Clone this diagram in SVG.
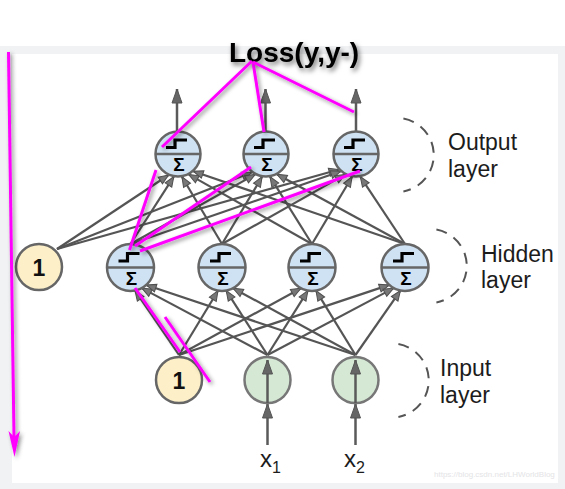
<svg xmlns="http://www.w3.org/2000/svg" width="565" height="489" viewBox="0 0 565 489">
<defs>
<style>
text{font-family:"Liberation Sans",Arial,Helvetica,sans-serif}
.conn{stroke:#555;stroke-width:2.2;fill:none;marker-end:url(#ah)}
.io{stroke:#5a5a5a;stroke-width:2.5;fill:none;marker-end:url(#ahb)}
.nc{fill:#cfe2f3;stroke:#666;stroke-width:2.5}
.bc{fill:#fdf0c8;stroke:#666;stroke-width:2.5}
.ic{fill:#d5e8d4;stroke:#777;stroke-width:2.5}
.mid{stroke:#666;stroke-width:2.5}
.step{stroke:#000;stroke-width:3.2;fill:none}
.one{font-size:23px;font-weight:bold;fill:#111;text-anchor:middle}
.lab{font-size:23px;fill:#1c1c1c}
.arc{stroke:#555;stroke-width:2;fill:none;stroke-dasharray:11 8}
.mag{stroke:#ff00ff;stroke-width:3;fill:none;filter:url(#msh)}
</style>
<marker id="ah" viewBox="0 0 10 8" refX="10" refY="4" markerWidth="10" markerHeight="8" orient="auto" markerUnits="userSpaceOnUse" overflow="visible">
<path d="M0,0 L10,4 L0,8 Z" fill="#777" stroke="#4f4f4f" stroke-width="1"/>
</marker>
<marker id="ahb" viewBox="0 0 14 10" refX="14" refY="5" markerWidth="14" markerHeight="10" orient="auto" markerUnits="userSpaceOnUse" overflow="visible">
<path d="M0,0 L14,5 L0,10 Z" fill="#666" stroke="#555" stroke-width="1"/>
</marker>
<filter id="tsh" x="-20%" y="-40%" width="140%" height="180%">
<feDropShadow dx="2" dy="3" stdDeviation="2.5" flood-color="#000" flood-opacity="0.55"/>
</filter>
<filter id="msh" x="-50%" y="-50%" width="200%" height="200%" filterUnits="userSpaceOnUse">
<feDropShadow dx="2" dy="2" stdDeviation="2" flood-color="#000" flood-opacity="0.45"/>
</filter>
</defs>

<rect x="0" y="0" width="565" height="489" fill="#ffffff"/>
<rect x="0" y="46" width="565" height="443" fill="#f1f2f4"/>
<rect x="12" y="54" width="546" height="429" fill="#ffffff"/>

<g id="connectors">
<line class="conn" x1="57" y1="249" x2="168.6" y2="175"/>
<line class="conn" x1="130.5" y1="244" x2="173.8" y2="176.6"/>
<line class="conn" x1="222" y1="244" x2="181.9" y2="176.7"/>
<line class="conn" x1="312" y1="244" x2="188.6" y2="174.4"/>
<line class="conn" x1="405" y1="244" x2="193.2" y2="171.2"/>
<line class="conn" x1="57" y1="249" x2="252" y2="172.2"/>
<line class="conn" x1="130.5" y1="244" x2="255.3" y2="174.4"/>
<line class="conn" x1="222" y1="244" x2="262.1" y2="176.7"/>
<line class="conn" x1="312" y1="244" x2="270" y2="176.7"/>
<line class="conn" x1="405" y1="244" x2="276.9" y2="174.2"/>
<line class="conn" x1="57" y1="249" x2="339" y2="169.5"/>
<line class="conn" x1="130.5" y1="244" x2="340.8" y2="171.3"/>
<line class="conn" x1="222" y1="244" x2="345.4" y2="174.4"/>
<line class="conn" x1="312" y1="244" x2="352.1" y2="176.7"/>
<line class="conn" x1="405" y1="244" x2="360.3" y2="176.6"/>
<line class="conn" x1="179" y1="355" x2="135" y2="290.6"/>
<line class="conn" x1="267.5" y1="355" x2="141.8" y2="288.1"/>
<line class="conn" x1="355.5" y1="355" x2="146.2" y2="285"/>
<line class="conn" x1="179" y1="355" x2="218" y2="290.7"/>
<line class="conn" x1="267.5" y1="355" x2="226.2" y2="290.6"/>
<line class="conn" x1="355.5" y1="355" x2="233.1" y2="288.2"/>
<line class="conn" x1="179" y1="355" x2="301" y2="288.2"/>
<line class="conn" x1="267.5" y1="355" x2="307.9" y2="290.6"/>
<line class="conn" x1="355.5" y1="355" x2="316" y2="290.6"/>
<line class="conn" x1="179" y1="355" x2="389.3" y2="284.9"/>
<line class="conn" x1="267.5" y1="355" x2="393.7" y2="288.1"/>
<line class="conn" x1="355.5" y1="355" x2="400.4" y2="290.6"/>
<line class="io" x1="177" y1="131" x2="177" y2="89"/>
<line class="io" x1="265.5" y1="131" x2="265.5" y2="89"/>
<line class="io" x1="356" y1="131" x2="356" y2="89"/>
<line class="io" x1="267.5" y1="445" x2="267.5" y2="404"/>
<line class="io" x1="355.5" y1="445" x2="355.5" y2="404"/>
</g>

<g id="out1" transform="translate(178,154)">
<circle class="nc" r="22.5"/><line class="mid" x1="-22.5" y1="0" x2="22.5" y2="0"/>
<path class="step" d="M-12,-6.5 H-3 V-14 H9"/><text x="1" y="17" font-family="DejaVu Sans, sans-serif" font-size="19" font-weight="bold" text-anchor="middle" fill="#000">Σ</text>
</g>
<g id="out2" transform="translate(266,154)">
<circle class="nc" r="22.5"/><line class="mid" x1="-22.5" y1="0" x2="22.5" y2="0"/>
<path class="step" d="M-12,-6.5 H-3 V-14 H9"/><text x="1" y="17" font-family="DejaVu Sans, sans-serif" font-size="19" font-weight="bold" text-anchor="middle" fill="#000">Σ</text>
</g>
<g id="out3" transform="translate(356,154)">
<circle class="nc" r="22.5"/><line class="mid" x1="-22.5" y1="0" x2="22.5" y2="0"/>
<path class="step" d="M-12,-6.5 H-3 V-14 H9"/><text x="1" y="17" font-family="DejaVu Sans, sans-serif" font-size="19" font-weight="bold" text-anchor="middle" fill="#000">Σ</text>
</g>

<g id="bias_hidden" transform="translate(39,267)">
<circle class="bc" r="23"/><text class="one" x="0" y="8.5">1</text>
</g>
<g id="hid1" transform="translate(130.5,267.5)">
<circle class="nc" r="23.5"/><line class="mid" x1="-23.5" y1="0" x2="23.5" y2="0"/>
<path class="step" d="M-12,-6.5 H-3 V-14 H9"/><text x="1" y="17" font-family="DejaVu Sans, sans-serif" font-size="19" font-weight="bold" text-anchor="middle" fill="#000">Σ</text>
</g>
<g id="hid2" transform="translate(222,267.5)">
<circle class="nc" r="23.5"/><line class="mid" x1="-23.5" y1="0" x2="23.5" y2="0"/>
<path class="step" d="M-12,-6.5 H-3 V-14 H9"/><text x="1" y="17" font-family="DejaVu Sans, sans-serif" font-size="19" font-weight="bold" text-anchor="middle" fill="#000">Σ</text>
</g>
<g id="hid3" transform="translate(312,267.5)">
<circle class="nc" r="23.5"/><line class="mid" x1="-23.5" y1="0" x2="23.5" y2="0"/>
<path class="step" d="M-12,-6.5 H-3 V-14 H9"/><text x="1" y="17" font-family="DejaVu Sans, sans-serif" font-size="19" font-weight="bold" text-anchor="middle" fill="#000">Σ</text>
</g>
<g id="hid4" transform="translate(405,267.5)">
<circle class="nc" r="23.5"/><line class="mid" x1="-23.5" y1="0" x2="23.5" y2="0"/>
<path class="step" d="M-12,-6.5 H-3 V-14 H9"/><text x="1" y="17" font-family="DejaVu Sans, sans-serif" font-size="19" font-weight="bold" text-anchor="middle" fill="#000">Σ</text>
</g>

<g id="bias_input" transform="translate(179,380)">
<circle class="bc" r="23"/><text class="one" x="0" y="8.5">1</text>
</g>
<g id="in1" transform="translate(267.5,380)">
<circle class="ic" r="23"/>
<line class="io" x1="0" y1="23" x2="0" y2="-20"/>
</g>
<g id="in2" transform="translate(355.5,380)">
<circle class="ic" r="23"/>
<line class="io" x1="0" y1="23" x2="0" y2="-20"/>
</g>

<g id="labels">
<path class="arc" d="M403.4,118.6 A37,37 0 0 1 403.4,191.4"/>
<path class="arc" d="M436.4,229.6 A37,37 0 0 1 436.4,302.4"/>
<path class="arc" d="M398.4,344.1 A37,37 0 0 1 398.4,416.9"/>
<text class="lab" x="448" y="150">Output</text>
<text class="lab" x="448" y="177">layer</text>
<text class="lab" x="481" y="262">Hidden</text>
<text class="lab" x="481" y="288">layer</text>
<text class="lab" x="440" y="376">Input</text>
<text class="lab" x="440" y="403">layer</text>
<text x="260" y="467" font-size="24" fill="#1c1c1c">x<tspan font-size="16" dy="6">1</tspan></text>
<text x="344" y="467" font-size="24" fill="#1c1c1c">x<tspan font-size="16" dy="6">2</tspan></text>
<text x="434" y="477" font-size="8" fill="#e4e4e6">https://blog.csdn.net/LHWorldBlog</text>
</g>

<g id="annotation">
<text x="229" y="62" font-size="28" font-weight="bold" fill="#000" filter="url(#tsh)">Loss(y,y-)</text>
<line class="mag" x1="252" y1="61" x2="162" y2="147"/>
<line class="mag" x1="253" y1="62" x2="264" y2="132"/>
<line class="mag" x1="253" y1="62" x2="354" y2="112"/>
<line class="mag" x1="129.5" y1="250" x2="156" y2="170"/>
<line class="mag" x1="135" y1="246" x2="251" y2="167"/>
<line class="mag" x1="140" y1="251" x2="360" y2="171"/>
<line class="mag" x1="135" y1="288" x2="180" y2="352"/>
<line class="mag" x1="165" y1="317" x2="210" y2="382"/>
<g filter="url(#msh)">
<line x1="8.5" y1="52" x2="14" y2="437" stroke="#ff00ff" stroke-width="3"/>
<polygon points="14.5,457 8.5,431 14.2,437 20,431" fill="#ff00ff"/>
</g>
</g>
</svg>
